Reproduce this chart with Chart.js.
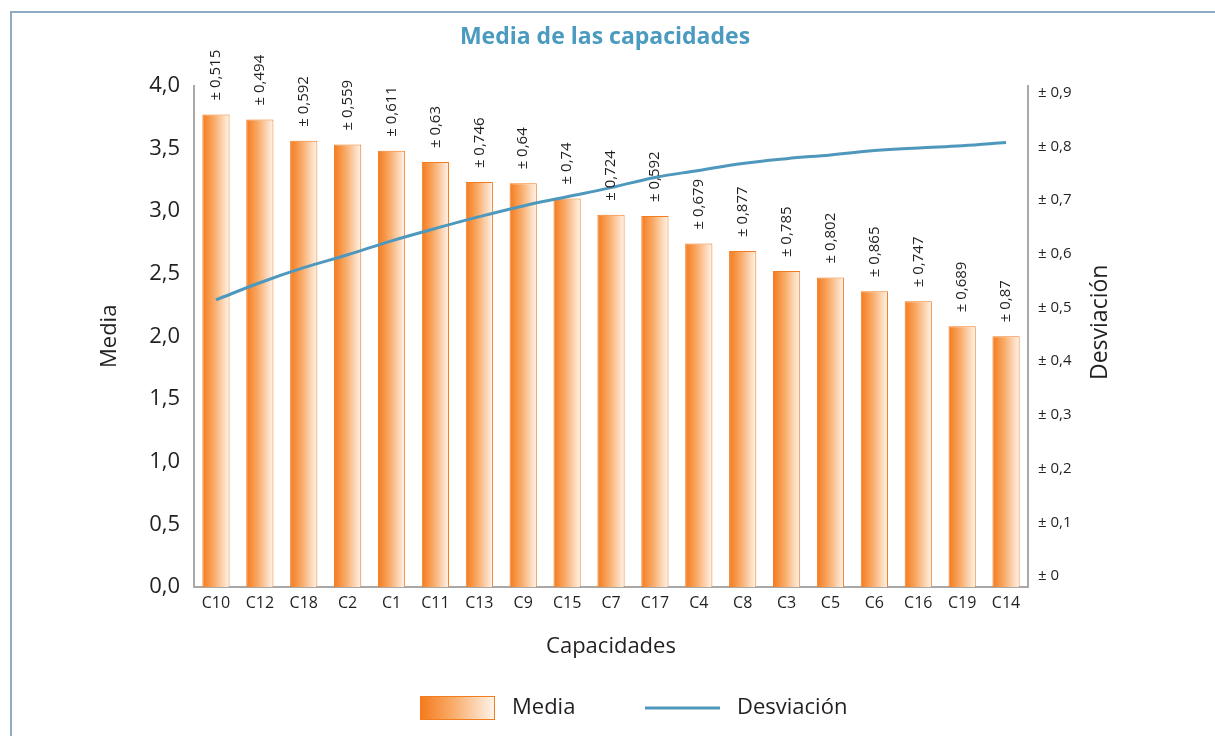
<!DOCTYPE html>
<html>
<head>
<meta charset="utf-8">
<script src="https://cdn.jsdelivr.net/npm/chart.js@4.4.0/dist/chart.umd.min.js"></script>
<style>
  html, body { margin: 0; padding: 0; background: #fff; }
  #wrap { position: relative; width: 1215px; height: 736px; overflow: hidden; }
  #frame { position: absolute; left: 10px; top: 11px; width: 1300px; height: 800px;
           border-left: 2px solid #8eabc3; border-top: 2px solid #8eabc3; }
  canvas { position: absolute; left: 0; top: 0; }
</style>
</head>
<body>
<div id="wrap">
  <div id="frame"></div>
  <canvas id="chart" width="1215" height="736"></canvas>
</div>
<script>
const capacidades = ['C10', 'C12', 'C18', 'C2', 'C1', 'C11', 'C13', 'C9', 'C15', 'C7',
  'C17', 'C4', 'C8', 'C3', 'C5', 'C6', 'C16', 'C19', 'C14'];
const media = [3.77, 3.73, 3.56, 3.53, 3.48, 3.39, 3.23, 3.22, 3.10, 2.97,
  2.96, 2.74, 2.68, 2.52, 2.47, 2.36, 2.28, 2.08, 2.00];
// valores escritos sobre cada barra
const desviacion = [0.515, 0.494, 0.592, 0.559, 0.611, 0.63, 0.746, 0.64, 0.74, 0.724,
  0.592, 0.679, 0.877, 0.785, 0.802, 0.865, 0.747, 0.689, 0.87];
// curva azul tal como aparece en el grafico
const desviacionCurva = [0.514, 0.546, 0.574, 0.598, 0.624, 0.647, 0.669, 0.689, 0.706, 0.723,
  0.742, 0.755, 0.768, 0.777, 0.784, 0.792, 0.797, 0.801, 0.807];
const mediaTicks = [0, 0.5, 1, 1.5, 2, 2.5, 3, 3.5, 4];
const desvTicks = [0, 0.1, 0.2, 0.3, 0.4, 0.5, 0.6, 0.7, 0.8, 0.9];

const FONT = "'Open Sans', sans-serif";
const TEXT = '#231f20';
const AXIS = '#a8a8a8';
const ORANGE = '#f47c20';
const BLUE = '#4e98bd';

Chart.defaults.font.family = FONT;
Chart.defaults.color = TEXT;

const coma = v => v.toFixed(1).replace('.', ',');
const coma3 = v => String(v).replace('.', ',');

function orangeGradient(c, x1, x2) {
  const g = c.createLinearGradient(x1, 0, x2, 0);
  g.addColorStop(0, '#f47a1c');
  g.addColorStop(0.45, '#f9ad6c');
  g.addColorStop(1, '#fff5ec');
  return g;
}

function barFill(context) {
  const chart = context.chart;
  const xs = chart.scales.x;
  if (!chart.chartArea || !xs || context.dataIndex === undefined) return ORANGE;
  const cx = xs.getPixelForValue(context.dataIndex);
  const half = xs.width / capacidades.length * 0.62 / 2;
  return orangeGradient(chart.ctx, cx - half, cx + half);
}

const etiquetas = {
  id: 'etiquetas',
  afterDatasetsDraw(chart) {
    const c = chart.ctx;
    const meta = chart.getDatasetMeta(0);
    c.save();
    c.font = '15px ' + FONT;
    c.fillStyle = TEXT;
    c.textAlign = 'left';
    c.textBaseline = 'middle';
    meta.data.forEach((bar, i) => {
      c.save();
      c.translate(bar.x, bar.y - 14);
      c.rotate(-Math.PI / 2);
      c.fillText('\u00b1 ' + coma3(desviacion[i]), 0, 0);
      c.restore();
    });
    // titulo del eje derecho, leido de abajo hacia arriba
    const area = chart.chartArea;
    c.font = '23px ' + FONT;
    c.textAlign = 'center';
    c.translate(chart.scales.y1.right - 13, (area.top + area.bottom) / 2 - 14);
    c.rotate(-Math.PI / 2);
    c.fillText('Desviación', 0, 0);
    c.restore();
  }
};

const leyenda = {
  id: 'leyenda',
  afterDraw(chart) {
    const c = chart.ctx;
    const y = chart.height - 28;
    const x0 = chart.chartArea.left + 226;
    c.save();
    c.font = '22px ' + FONT;
    c.fillStyle = TEXT;
    c.textBaseline = 'middle';
    c.textAlign = 'left';
    // Media
    c.fillStyle = orangeGradient(c, x0, x0 + 75);
    c.fillRect(x0, y - 12, 75, 24);
    c.strokeStyle = ORANGE;
    c.lineWidth = 1;
    c.strokeRect(x0 + 0.5, y - 11.5, 74, 23);
    c.fillStyle = TEXT;
    c.fillText(chart.data.datasets[0].label, x0 + 92, y);
    // Desviacion
    const x1 = x0 + 225;
    c.strokeStyle = BLUE;
    c.lineWidth = 3;
    c.beginPath();
    c.moveTo(x1, y);
    c.lineTo(x1 + 75, y);
    c.stroke();
    c.fillText(chart.data.datasets[1].label, x1 + 92, y);
    c.restore();
  }
};

new Chart(document.getElementById('chart'), {
  type: 'bar',
  data: {
    labels: capacidades,
    datasets: [
      {
        type: 'bar',
        label: 'Media',
        data: media,
        yAxisID: 'y',
        backgroundColor: barFill,
        borderColor: ORANGE,
        borderWidth: 1,
        categoryPercentage: 0.62,
        barPercentage: 1,
        order: 1
      },
      {
        type: 'line',
        label: 'Desviación',
        data: desviacionCurva,
        yAxisID: 'y1',
        borderColor: BLUE,
        borderWidth: 3,
        pointRadius: 0,
        tension: 0.4,
        fill: false,
        order: 0
      }
    ]
  },
  options: {
    responsive: false,
    animation: false,
    layout: { padding: { left: 97, right: 102, top: 10, bottom: 76 } },
    plugins: {
      legend: { display: false },
      tooltip: { enabled: false },
      title: {
        display: true,
        text: 'Media de las capacidades',
        color: '#4b9ac0',
        font: { size: 23, weight: 'bold' },
        padding: { top: 14, bottom: 34 }
      }
    },
    scales: {
      x: {
        grid: { display: false, drawTicks: false },
        border: { color: AXIS, width: 2 },
        ticks: { font: { size: 16 }, color: TEXT, padding: 7, maxRotation: 0, autoSkip: false },
        title: { display: true, text: 'Capacidades', font: { size: 22 }, color: TEXT, padding: 0 },
        afterFit: s => { s.height = 73; }
      },
      y: {
        position: 'left',
        min: 0,
        max: 4,
        afterBuildTicks: s => { s.ticks = mediaTicks.map(v => ({ value: v })); },
        grid: { display: false, drawTicks: false },
        border: { color: AXIS, width: 2 },
        ticks: { font: { size: 22 }, color: TEXT, padding: 14, callback: v => coma(v) },
        title: { display: true, text: 'Media', font: { size: 22 }, color: TEXT, padding: 0 },
        afterFit: s => { s.width = 97; }
      },
      y1: {
        position: 'right',
        min: -0.0205,
        max: 0.913,
        afterBuildTicks: s => { s.ticks = desvTicks.map(v => ({ value: v })); },
        grid: { display: false, drawTicks: false },
        border: { color: AXIS, width: 2 },
        ticks: {
          font: { size: 15 }, color: TEXT, padding: 10,
          callback: v => '\u00b1 ' + (v === 0 ? '0' : coma(v))
        },
        title: { display: false },
        afterFit: s => { s.width = 85; }
      }
    }
  },
  plugins: [etiquetas, leyenda]
});
</script>
</body>
</html>
